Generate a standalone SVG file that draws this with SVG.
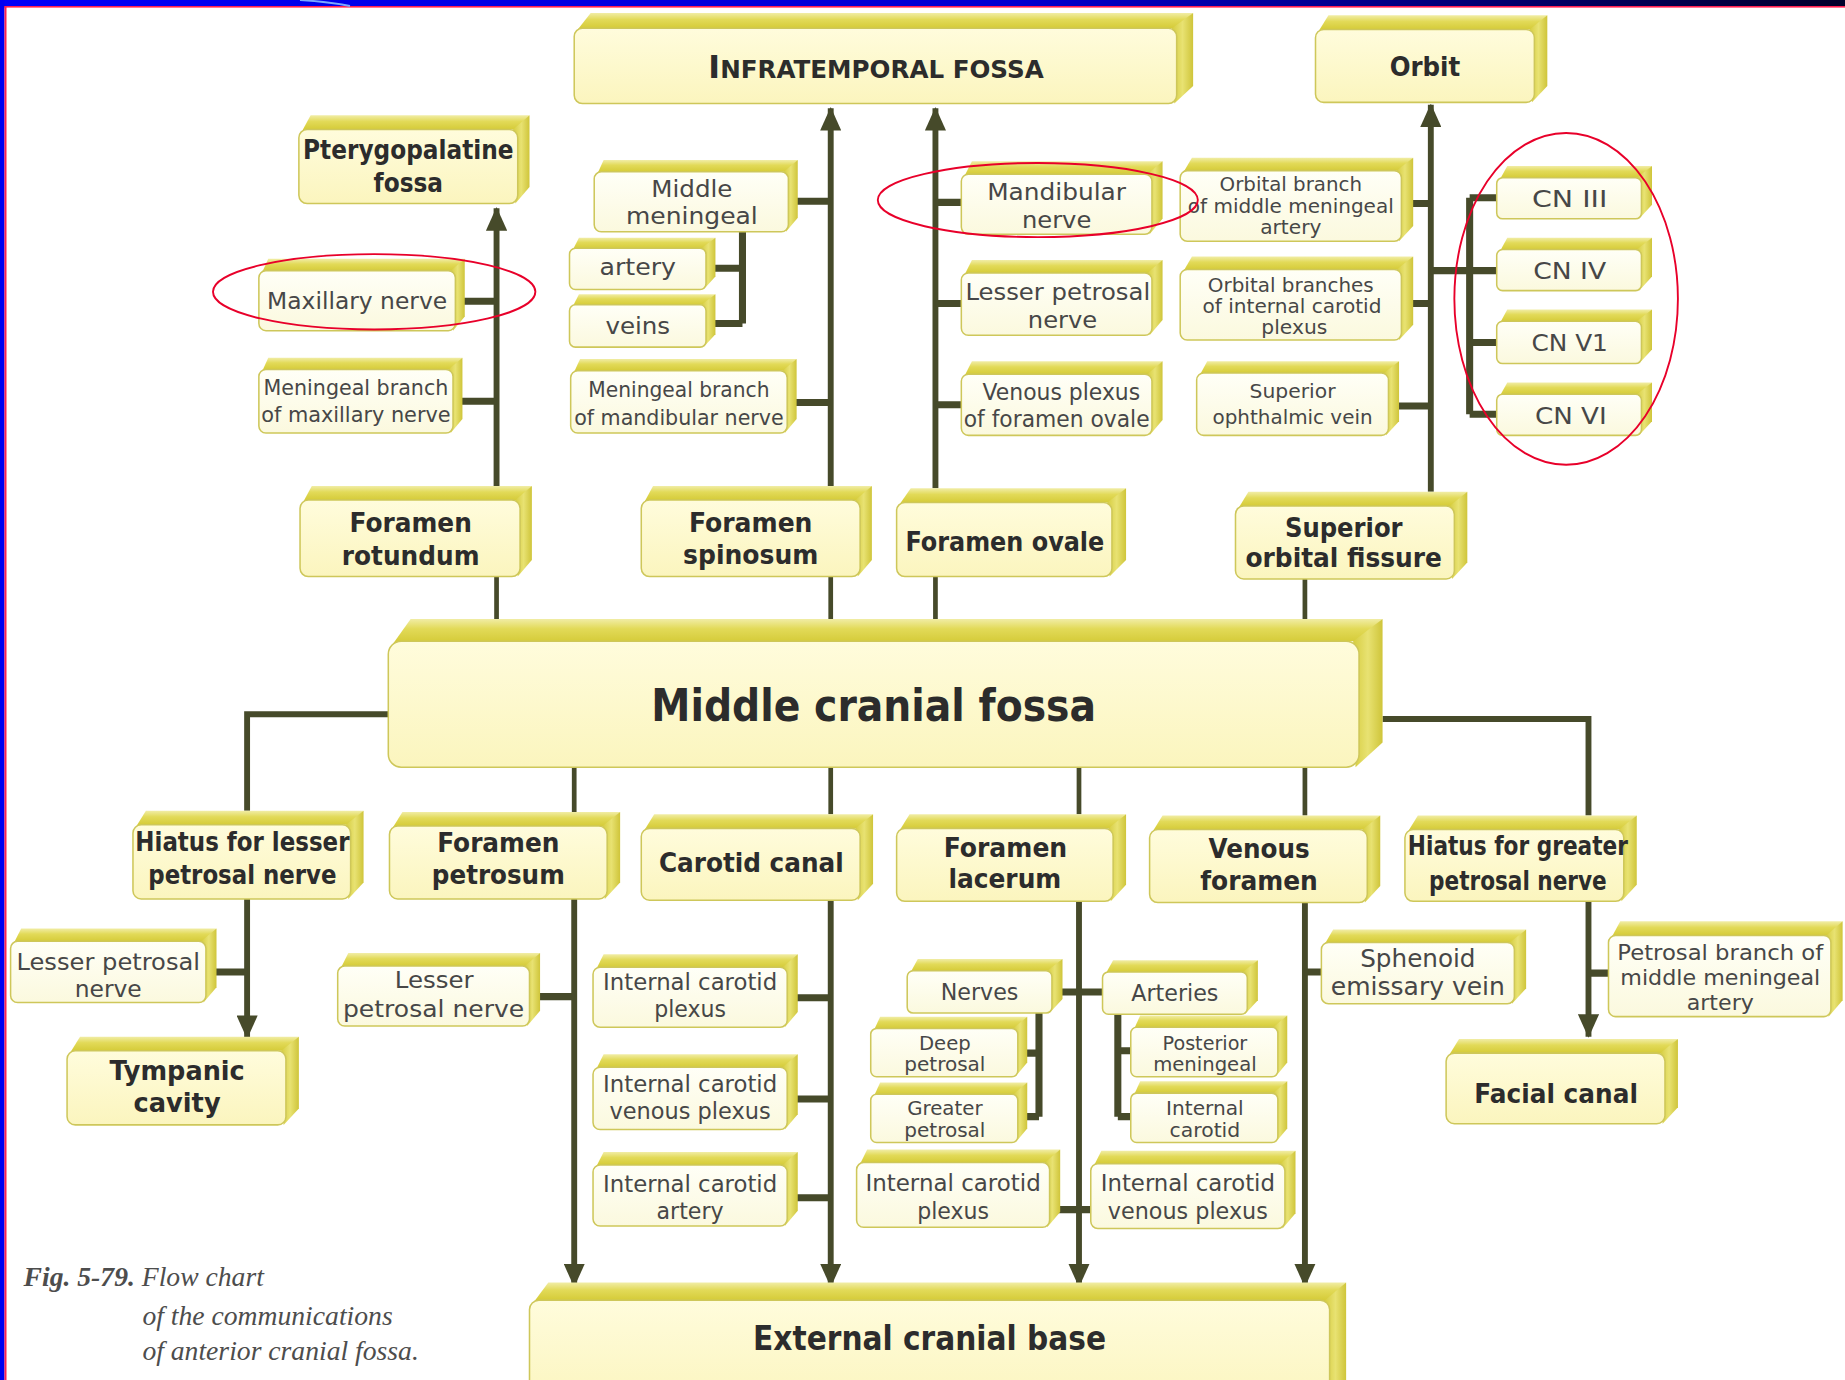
<svg xmlns="http://www.w3.org/2000/svg" width="1845" height="1380" viewBox="0 0 1845 1380">
<defs>
<linearGradient id="gTop" x1="0" y1="0" x2="0" y2="1"><stop offset="0" stop-color="#f1eda6"/><stop offset="0.4" stop-color="#e2da58"/><stop offset="1" stop-color="#d3c934"/></linearGradient>
<linearGradient id="gSide" x1="0" y1="0" x2="1" y2="0"><stop offset="0" stop-color="#d6cd40"/><stop offset="0.5" stop-color="#e8e272"/><stop offset="1" stop-color="#cfc53a"/></linearGradient>
<linearGradient id="gFront" x1="0" y1="0" x2="0" y2="1"><stop offset="0" stop-color="#fffff7"/><stop offset="1" stop-color="#fbf9de"/></linearGradient>
<linearGradient id="gMain" x1="0" y1="0" x2="0" y2="1"><stop offset="0" stop-color="#fffcdc"/><stop offset="1" stop-color="#fbf5be"/></linearGradient>
<linearGradient id="gBand" x1="0" y1="0" x2="1" y2="0"><stop offset="0" stop-color="#0000f8"/><stop offset="0.55" stop-color="#0000d0"/><stop offset="1" stop-color="#00002a"/></linearGradient>
<marker id="ah" viewBox="0 0 20 18" refX="19" refY="9" markerWidth="20" markerHeight="18" orient="auto" markerUnits="userSpaceOnUse"><path d="M0,0 L20,9 L0,18 Z" fill="#464a2a"/></marker>
</defs>
<style>
.top{fill:url(#gTop)}
.side{fill:url(#gSide)}
.front{fill:url(#gFront);stroke:#cec75a;stroke-width:1.3}
.main .front{fill:url(#gMain)}
.t{font-family:"DejaVu Sans",Verdana,sans-serif;text-anchor:middle}
.b{font-weight:bold;font-size:22px;fill:#2c2c2c}
.r{font-size:20px;fill:#474747}
.m{font-size:18.5px}
.s{font-size:16.5px}
.xl{font-size:38px}
.lg{font-size:28px}
.sp{font-size:21px}
.ln{stroke:#464a2a;stroke-width:5;fill:none}
.lk{stroke:#464a2a;stroke-width:4;fill:none}
.st{stroke:#464a2a;stroke-width:6;fill:none}
.ring{fill:none;stroke:#e8002a;stroke-width:1.6}
.cap{font-family:"Liberation Serif","Times New Roman",serif;font-style:italic;font-size:23.5px;fill:#4d4d4d}
</style>
<rect width="1845" height="1380" fill="#ffffff"/>
<g id="frame">
<rect x="0" y="0" width="1845" height="6" fill="url(#gBand)"/>
<rect x="0" y="6" width="1845" height="1.6" fill="#ff2050"/>
<rect x="0" y="0" width="4.5" height="1380" fill="#0000f0"/>
<rect x="4.5" y="6" width="2" height="1374" fill="#ff2050"/>
<path d="M300,0 Q330,2 350,6" stroke="#7aa8ff" stroke-width="2" fill="none"/>
</g>
<g transform="scale(1.17666)">
<g id="connectors">
<path class="ln" d="M422,413 V177" marker-end="url(#ah)"/>
<path class="ln" d="M706,413 V92" marker-end="url(#ah)"/>
<path class="ln" d="M795,415 V92" marker-end="url(#ah)"/>
<path class="ln" d="M1216,418 V89" marker-end="url(#ah)"/>
<path class="lk" d="M422,490 V537 M706,490 V537 M795,490 V537 M1109,492 V537"/>
<path class="st" d="M387,256 H422 M385,341 H422 M670,171 H706 M631,197 V275 M600,228 H631 M600,275 H631 M669,342 H706"/>
<path class="st" d="M795,172 H817 M795,258 H817 M795,344 H817 M1191,173 H1216 M1191,258 H1216 M1180,345 H1216"/>
<path class="st" d="M1216,230 H1249 M1249,168 V352 M1249,168 H1272 M1249,230 H1272 M1249,291 H1272 M1249,352 H1272"/>
<path class="ln" d="M330,607 H210 V689 M1175,611 H1350 V693"/>
<path class="lk" d="M488,652 V690 M706,652 V692 M917,652 V692 M1109,652 V693"/>
<path class="ln" d="M210,764 V882" marker-end="url(#ah)"/>
<path class="ln" d="M488,764 V1093" marker-end="url(#ah)"/>
<path class="ln" d="M706,765 V1093" marker-end="url(#ah)"/>
<path class="ln" d="M917,766 V1093" marker-end="url(#ah)"/>
<path class="ln" d="M1109,767 V1093" marker-end="url(#ah)"/>
<path class="ln" d="M1350,766 V881" marker-end="url(#ah)"/>
<path class="st" d="M175,826 H210 M450,847 H488 M669,848 H706 M669,934 H706 M669,1018 H706"/>
<path class="st" d="M894,843 H937 M883,861 V949 M865,895 H883 M865,949 H883 M950,862 V949 M950,893 H961 M950,949 H961 M892,1028 H927"/>
<path class="st" d="M1109,826 H1123 M1350,827 H1367"/>
</g>

<g id="n-infratemporal" class="main"><path class="top" d="M491,25 L502,11 L1014,11 L1000,24 Z"/><path class="side" d="M996,24 L1014,11 L1014,73 L998,88 Z"/><rect class="front" x="488" y="24" width="512" height="64" rx="7"/>
<text class="t b" x="744.5" y="66" textLength="285" lengthAdjust="spacingAndGlyphs"><tspan style="font-size:27px">I</tspan><tspan style="font-size:21px">NFRATEMPORAL FOSSA</tspan></text></g>

<g id="n-orbit" class="main"><path class="top" d="M1121,26 L1129,13 L1315,13 L1304,25 Z"/><path class="side" d="M1300,25 L1315,13 L1315,73 L1302,87 Z"/><rect class="front" x="1118" y="25" width="186" height="62" rx="7"/>
<text class="t b" x="1211" y="65" textLength="60" lengthAdjust="spacingAndGlyphs">Orbit</text></g>

<g id="n-pterygopalatine" class="main"><path class="top" d="M257,111 L264,98 L450,98 L440,110 Z"/><path class="side" d="M436,110 L450,98 L450,159 L438,173 Z"/><rect class="front" x="254" y="110" width="186" height="63" rx="7"/>
<text class="t b" x="347" y="135" textLength="179" lengthAdjust="spacingAndGlyphs">Pterygopalatine</text><text class="t b" x="347" y="163" textLength="59" lengthAdjust="spacingAndGlyphs">fossa</text></g>

<g id="n-maxillary"><path class="top" d="M223,231 L228,220 L395,220 L387,230 Z"/><path class="side" d="M383,230 L395,220 L395,269 L385,281 Z"/><rect class="front" x="220" y="230" width="167" height="51" rx="6"/>
<text class="t r" x="303.5" y="263" textLength="153" lengthAdjust="spacingAndGlyphs">Maxillary nerve</text></g>

<g id="n-meningeal-max"><path class="top" d="M223,315 L228,304 L393,304 L385,314 Z"/><path class="side" d="M381,314 L393,304 L393,356 L383,368 Z"/><rect class="front" x="220" y="314" width="165" height="54" rx="6"/>
<text class="t r m" x="302.5" y="336" textLength="157" lengthAdjust="spacingAndGlyphs">Meningeal branch</text><text class="t r m" x="302.5" y="359" textLength="161" lengthAdjust="spacingAndGlyphs">of maxillary nerve</text></g>

<g id="n-rotundum" class="main"><path class="top" d="M258,426 L265,413 L452,413 L442,425 Z"/><path class="side" d="M438,425 L452,413 L452,476 L440,490 Z"/><rect class="front" x="255" y="425" width="187" height="65" rx="7"/>
<text class="t b" x="349" y="452" textLength="104" lengthAdjust="spacingAndGlyphs">Foramen</text><text class="t b" x="349" y="480" textLength="117" lengthAdjust="spacingAndGlyphs">rotundum</text></g>

<g id="n-middle-meningeal"><path class="top" d="M508,147 L513,136 L678,136 L670,146 Z"/><path class="side" d="M666,146 L678,136 L678,185 L668,197 Z"/><rect class="front" x="505" y="146" width="165" height="51" rx="6"/>
<text class="t r" x="588" y="167" textLength="69" lengthAdjust="spacingAndGlyphs">Middle</text><text class="t r" x="588" y="190" textLength="112" lengthAdjust="spacingAndGlyphs">meningeal</text></g>

<g id="n-artery"><path class="top" d="M487,212 L492,202 L608,202 L600,211 Z"/><path class="side" d="M596,211 L608,202 L608,235 L598,246 Z"/><rect class="front" x="484" y="211" width="116" height="35" rx="5"/>
<text class="t r" x="542" y="234" textLength="65" lengthAdjust="spacingAndGlyphs">artery</text></g>

<g id="n-veins"><path class="top" d="M487,260 L492,250 L608,250 L600,259 Z"/><path class="side" d="M596,259 L608,250 L608,284 L598,295 Z"/><rect class="front" x="484" y="259" width="116" height="36" rx="5"/>
<text class="t r" x="542" y="284" textLength="55" lengthAdjust="spacingAndGlyphs">veins</text></g>

<g id="n-meningeal-mand"><path class="top" d="M488,316 L493,305 L677,305 L669,315 Z"/><path class="side" d="M665,315 L677,305 L677,356 L667,368 Z"/><rect class="front" x="485" y="315" width="184" height="53" rx="6"/>
<text class="t r m" x="577" y="337" textLength="154" lengthAdjust="spacingAndGlyphs">Meningeal branch</text><text class="t r m" x="577" y="361" textLength="178" lengthAdjust="spacingAndGlyphs">of mandibular nerve</text></g>

<g id="n-spinosum" class="main"><path class="top" d="M548,426 L555,413 L741,413 L731,425 Z"/><path class="side" d="M727,425 L741,413 L741,476 L729,490 Z"/><rect class="front" x="545" y="425" width="186" height="65" rx="7"/>
<text class="t b" x="638" y="452" textLength="105" lengthAdjust="spacingAndGlyphs">Foramen</text><text class="t b" x="638" y="479" textLength="115" lengthAdjust="spacingAndGlyphs">spinosum</text></g>

<g id="n-mandibular"><path class="top" d="M820,149 L826,137 L988,137 L979,148 Z"/><path class="side" d="M975,148 L988,137 L988,186 L977,199 Z"/><rect class="front" x="817" y="148" width="162" height="51" rx="6"/>
<text class="t r" x="898" y="170" textLength="118" lengthAdjust="spacingAndGlyphs">Mandibular</text><text class="t r" x="898" y="194" textLength="59" lengthAdjust="spacingAndGlyphs">nerve</text></g>

<g id="n-lesser-petrosal-top"><path class="top" d="M820,233 L826,221 L988,221 L979,232 Z"/><path class="side" d="M975,232 L988,221 L988,272 L977,285 Z"/><rect class="front" x="817" y="232" width="162" height="53" rx="6"/>
<text class="t r" x="899" y="255" textLength="157" lengthAdjust="spacingAndGlyphs">Lesser petrosal</text><text class="t r" x="903" y="279" textLength="59" lengthAdjust="spacingAndGlyphs">nerve</text></g>

<g id="n-venous-plexus-ovale"><path class="top" d="M820,319 L826,307 L988,307 L979,318 Z"/><path class="side" d="M975,318 L988,307 L988,357 L977,370 Z"/><rect class="front" x="817" y="318" width="162" height="52" rx="6"/>
<text class="t r" x="902" y="340" textLength="134" lengthAdjust="spacingAndGlyphs">Venous plexus</text><text class="t r" x="898" y="363" textLength="158" lengthAdjust="spacingAndGlyphs">of foramen ovale</text></g>

<g id="n-ovale" class="main"><path class="top" d="M765,428 L774,415 L957,415 L945,427 Z"/><path class="side" d="M941,427 L957,415 L957,476 L943,490 Z"/><rect class="front" x="762" y="427" width="183" height="63" rx="7"/>
<text class="t b" x="854" y="468" textLength="169" lengthAdjust="spacingAndGlyphs">Foramen ovale</text></g>

<g id="n-orbital-mma"><path class="top" d="M1006,146 L1013,134 L1201,134 L1191,145 Z"/><path class="side" d="M1187,145 L1201,134 L1201,192 L1189,205 Z"/><rect class="front" x="1003" y="145" width="188" height="60" rx="6"/>
<text class="t r s" x="1097" y="162" textLength="121" lengthAdjust="spacingAndGlyphs">Orbital branch</text><text class="t r s" x="1097" y="181" textLength="175" lengthAdjust="spacingAndGlyphs">of middle meningeal</text><text class="t r s" x="1097" y="199" textLength="52" lengthAdjust="spacingAndGlyphs">artery</text></g>

<g id="n-orbital-icp"><path class="top" d="M1006,230 L1013,218 L1201,218 L1191,229 Z"/><path class="side" d="M1187,229 L1201,218 L1201,276 L1189,289 Z"/><rect class="front" x="1003" y="229" width="188" height="60" rx="6"/>
<text class="t r s" x="1097" y="248" textLength="141" lengthAdjust="spacingAndGlyphs">Orbital branches</text><text class="t r s" x="1098" y="266" textLength="152" lengthAdjust="spacingAndGlyphs">of internal carotid</text><text class="t r s" x="1100" y="284" textLength="56" lengthAdjust="spacingAndGlyphs">plexus</text></g>

<g id="n-sup-ophthalmic"><path class="top" d="M1020,318 L1026,307 L1189,307 L1180,317 Z"/><path class="side" d="M1176,317 L1189,307 L1189,358 L1178,370 Z"/><rect class="front" x="1017" y="317" width="163" height="53" rx="6"/>
<text class="t r s" x="1098.5" y="338" textLength="73" lengthAdjust="spacingAndGlyphs">Superior</text><text class="t r s" x="1098.5" y="360" textLength="136" lengthAdjust="spacingAndGlyphs">ophthalmic vein</text></g>

<g id="n-cn3"><path class="top" d="M1275,152 L1281,141 L1404,141 L1395,151 Z"/><path class="side" d="M1391,151 L1404,141 L1404,174 L1393,186 Z"/><rect class="front" x="1272" y="151" width="123" height="35" rx="5"/>
<text class="t r" x="1334" y="176" textLength="64" lengthAdjust="spacingAndGlyphs">CN III</text></g>
<g id="n-cn4"><path class="top" d="M1275,213 L1281,202 L1404,202 L1395,212 Z"/><path class="side" d="M1391,212 L1404,202 L1404,235 L1393,247 Z"/><rect class="front" x="1272" y="212" width="123" height="35" rx="5"/>
<text class="t r" x="1334" y="237" textLength="62" lengthAdjust="spacingAndGlyphs">CN IV</text></g>
<g id="n-cn5"><path class="top" d="M1275,274 L1281,263 L1404,263 L1395,273 Z"/><path class="side" d="M1391,273 L1404,263 L1404,297 L1393,309 Z"/><rect class="front" x="1272" y="273" width="123" height="36" rx="5"/>
<text class="t r" x="1334" y="298" textLength="65" lengthAdjust="spacingAndGlyphs">CN V1</text></g>
<g id="n-cn6"><path class="top" d="M1275,336 L1281,325 L1404,325 L1395,335 Z"/><path class="side" d="M1391,335 L1404,325 L1404,358 L1393,370 Z"/><rect class="front" x="1272" y="335" width="123" height="35" rx="5"/>
<text class="t r" x="1335" y="360" textLength="61" lengthAdjust="spacingAndGlyphs">CN VI</text></g>

<g id="n-sof" class="main"><path class="top" d="M1053,431 L1061,418 L1247,418 L1236,430 Z"/><path class="side" d="M1232,430 L1247,418 L1247,478 L1234,492 Z"/><rect class="front" x="1050" y="430" width="186" height="62" rx="7"/>
<text class="t b" x="1142" y="456" textLength="100" lengthAdjust="spacingAndGlyphs">Superior</text><text class="t b" x="1142" y="482" textLength="167" lengthAdjust="spacingAndGlyphs">orbital fissure</text></g>

<g id="n-middle-cranial-fossa" class="main"><path class="top" d="M334,547 L349,526 L1175,526 L1155,545 Z"/><path class="side" d="M1150,545 L1175,526 L1175,631 L1152,652 Z"/><rect class="front" x="330" y="545" width="825" height="107" rx="11"/>
<text class="t b xl" x="742.5" y="613" textLength="378" lengthAdjust="spacingAndGlyphs">Middle cranial fossa</text></g>

<g id="n-hiatus-lesser" class="main"><path class="top" d="M116,702 L124,689 L309,689 L298,701 Z"/><path class="side" d="M294,701 L309,689 L309,750 L296,764 Z"/><rect class="front" x="113" y="701" width="185" height="63" rx="7"/>
<text class="t b" x="206" y="723" textLength="182" lengthAdjust="spacingAndGlyphs">Hiatus for lesser</text><text class="t b" x="206" y="751" textLength="160" lengthAdjust="spacingAndGlyphs">petrosal nerve</text></g>

<g id="n-foramen-petrosum" class="main"><path class="top" d="M334,703 L342,690 L527,690 L516,702 Z"/><path class="side" d="M512,702 L527,690 L527,750 L514,764 Z"/><rect class="front" x="331" y="702" width="185" height="62" rx="7"/>
<text class="t b" x="423.5" y="724" textLength="104" lengthAdjust="spacingAndGlyphs">Foramen</text><text class="t b" x="423.5" y="751" textLength="113" lengthAdjust="spacingAndGlyphs">petrosum</text></g>

<g id="n-carotid-canal" class="main"><path class="top" d="M548,705 L556,692 L742,692 L731,704 Z"/><path class="side" d="M727,704 L742,692 L742,751 L729,765 Z"/><rect class="front" x="545" y="704" width="186" height="61" rx="7"/>
<text class="t b" x="638.5" y="741" textLength="157" lengthAdjust="spacingAndGlyphs">Carotid canal</text></g>

<g id="n-foramen-lacerum" class="main"><path class="top" d="M765,705 L773,692 L957,692 L946,704 Z"/><path class="side" d="M942,704 L957,692 L957,752 L944,766 Z"/><rect class="front" x="762" y="704" width="184" height="62" rx="7"/>
<text class="t b" x="854.5" y="728" textLength="105" lengthAdjust="spacingAndGlyphs">Foramen</text><text class="t b" x="854" y="755" textLength="96" lengthAdjust="spacingAndGlyphs">lacerum</text></g>

<g id="n-venous-foramen" class="main"><path class="top" d="M980,706 L988,693 L1173,693 L1162,705 Z"/><path class="side" d="M1158,705 L1173,693 L1173,753 L1160,767 Z"/><rect class="front" x="977" y="705" width="185" height="62" rx="7"/>
<text class="t b" x="1070" y="729" textLength="86" lengthAdjust="spacingAndGlyphs">Venous</text><text class="t b" x="1070" y="756" textLength="100" lengthAdjust="spacingAndGlyphs">foramen</text></g>

<g id="n-hiatus-greater" class="main"><path class="top" d="M1197,706 L1205,693 L1391,693 L1380,705 Z"/><path class="side" d="M1376,705 L1391,693 L1391,752 L1378,766 Z"/><rect class="front" x="1194" y="705" width="186" height="61" rx="7"/>
<text class="t b" x="1290" y="727" textLength="187" lengthAdjust="spacingAndGlyphs">Hiatus for greater</text><text class="t b" x="1290" y="756" textLength="151" lengthAdjust="spacingAndGlyphs">petrosal nerve</text></g>

<g id="n-lesser-petrosal-left"><path class="top" d="M12,801 L18,789 L184,789 L175,800 Z"/><path class="side" d="M171,800 L184,789 L184,839 L173,852 Z"/><rect class="front" x="9" y="800" width="166" height="52" rx="6"/>
<text class="t r" x="92" y="824" textLength="156" lengthAdjust="spacingAndGlyphs">Lesser petrosal</text><text class="t r" x="92" y="847" textLength="57" lengthAdjust="spacingAndGlyphs">nerve</text></g>

<g id="n-tympanic" class="main"><path class="top" d="M60,894 L68,881 L254,881 L243,893 Z"/><path class="side" d="M239,893 L254,881 L254,942 L241,956 Z"/><rect class="front" x="57" y="893" width="186" height="63" rx="7"/>
<text class="t b" x="150.5" y="918" textLength="115" lengthAdjust="spacingAndGlyphs">Tympanic</text><text class="t b" x="150.5" y="945" textLength="74" lengthAdjust="spacingAndGlyphs">cavity</text></g>

<g id="n-lesser-petrosal-fp"><path class="top" d="M290,822 L296,810 L459,810 L450,821 Z"/><path class="side" d="M446,821 L459,810 L459,859 L448,872 Z"/><rect class="front" x="287" y="821" width="163" height="51" rx="6"/>
<text class="t r" x="369" y="840" textLength="67" lengthAdjust="spacingAndGlyphs">Lesser</text><text class="t r" x="368.5" y="864" textLength="154" lengthAdjust="spacingAndGlyphs">petrosal nerve</text></g>

<g id="n-icp-carotid"><path class="top" d="M507,823 L513,811 L678,811 L669,822 Z"/><path class="side" d="M665,822 L678,811 L678,860 L667,873 Z"/><rect class="front" x="504" y="822" width="165" height="51" rx="6"/>
<text class="t r" x="586.5" y="841" textLength="148" lengthAdjust="spacingAndGlyphs">Internal carotid</text><text class="t r" x="586.5" y="864" textLength="61" lengthAdjust="spacingAndGlyphs">plexus</text></g>

<g id="n-icvp-carotid"><path class="top" d="M507,908 L513,896 L678,896 L669,907 Z"/><path class="side" d="M665,907 L678,896 L678,947 L667,960 Z"/><rect class="front" x="504" y="907" width="165" height="53" rx="6"/>
<text class="t r" x="586.5" y="928" textLength="148" lengthAdjust="spacingAndGlyphs">Internal carotid</text><text class="t r" x="586.5" y="951" textLength="137" lengthAdjust="spacingAndGlyphs">venous plexus</text></g>

<g id="n-ica"><path class="top" d="M507,991 L513,979 L678,979 L669,990 Z"/><path class="side" d="M665,990 L678,979 L678,1029 L667,1042 Z"/><rect class="front" x="504" y="990" width="165" height="52" rx="6"/>
<text class="t r" x="586.5" y="1013" textLength="148" lengthAdjust="spacingAndGlyphs">Internal carotid</text><text class="t r" x="586.5" y="1036" textLength="57" lengthAdjust="spacingAndGlyphs">artery</text></g>

<g id="n-nerves"><path class="top" d="M774,826 L780,815 L903,815 L894,825 Z"/><path class="side" d="M890,825 L903,815 L903,849 L892,861 Z"/><rect class="front" x="771" y="825" width="123" height="36" rx="5"/>
<text class="t r" x="832.5" y="850" textLength="66" lengthAdjust="spacingAndGlyphs">Nerves</text></g>

<g id="n-arteries"><path class="top" d="M940,827 L946,816 L1069,816 L1060,826 Z"/><path class="side" d="M1056,826 L1069,816 L1069,850 L1058,862 Z"/><rect class="front" x="937" y="826" width="123" height="36" rx="5"/>
<text class="t r" x="998.5" y="851" textLength="74" lengthAdjust="spacingAndGlyphs">Arteries</text></g>

<g id="n-deep-petrosal"><path class="top" d="M743,875 L748,864 L873,864 L865,874 Z"/><path class="side" d="M861,874 L873,864 L873,903 L863,915 Z"/><rect class="front" x="740" y="874" width="125" height="41" rx="5"/>
<text class="t r s" x="803" y="892" textLength="44" lengthAdjust="spacingAndGlyphs">Deep</text><text class="t r s" x="803" y="910" textLength="69" lengthAdjust="spacingAndGlyphs">petrosal</text></g>

<g id="n-greater-petrosal"><path class="top" d="M743,931 L748,920 L873,920 L865,930 Z"/><path class="side" d="M861,930 L873,920 L873,959 L863,971 Z"/><rect class="front" x="740" y="930" width="125" height="41" rx="5"/>
<text class="t r s" x="803" y="948" textLength="64" lengthAdjust="spacingAndGlyphs">Greater</text><text class="t r s" x="803" y="966" textLength="69" lengthAdjust="spacingAndGlyphs">petrosal</text></g>

<g id="n-posterior-meningeal"><path class="top" d="M964,874 L969,863 L1094,863 L1086,873 Z"/><path class="side" d="M1082,873 L1094,863 L1094,903 L1084,915 Z"/><rect class="front" x="961" y="873" width="125" height="42" rx="5"/>
<text class="t r s" x="1024" y="892" textLength="72" lengthAdjust="spacingAndGlyphs">Posterior</text><text class="t r s" x="1024" y="910" textLength="88" lengthAdjust="spacingAndGlyphs">meningeal</text></g>

<g id="n-internal-carotid-art"><path class="top" d="M964,930 L969,919 L1094,919 L1086,929 Z"/><path class="side" d="M1082,929 L1094,919 L1094,959 L1084,971 Z"/><rect class="front" x="961" y="929" width="125" height="42" rx="5"/>
<text class="t r s" x="1024" y="948" textLength="66" lengthAdjust="spacingAndGlyphs">Internal</text><text class="t r s" x="1024" y="966" textLength="60" lengthAdjust="spacingAndGlyphs">carotid</text></g>

<g id="n-icp-lacerum"><path class="top" d="M731,989 L737,977 L901,977 L892,988 Z"/><path class="side" d="M888,988 L901,977 L901,1030 L890,1043 Z"/><rect class="front" x="728" y="988" width="164" height="55" rx="6"/>
<text class="t r" x="810" y="1012" textLength="149" lengthAdjust="spacingAndGlyphs">Internal carotid</text><text class="t r" x="810" y="1036" textLength="61" lengthAdjust="spacingAndGlyphs">plexus</text></g>

<g id="n-icvp-lacerum"><path class="top" d="M930,990 L936,978 L1101,978 L1092,989 Z"/><path class="side" d="M1088,989 L1101,978 L1101,1031 L1090,1044 Z"/><rect class="front" x="927" y="989" width="165" height="55" rx="6"/>
<text class="t r" x="1009.5" y="1012" textLength="148" lengthAdjust="spacingAndGlyphs">Internal carotid</text><text class="t r" x="1009.5" y="1036" textLength="136" lengthAdjust="spacingAndGlyphs">venous plexus</text></g>

<g id="n-sphenoid"><path class="top" d="M1126,802 L1133,790 L1297,790 L1287,801 Z"/><path class="side" d="M1283,801 L1297,790 L1297,840 L1285,853 Z"/><rect class="front" x="1123" y="801" width="164" height="52" rx="6"/>
<text class="t r sp" x="1205" y="822" textLength="98" lengthAdjust="spacingAndGlyphs">Sphenoid</text><text class="t r sp" x="1205" y="846" textLength="148" lengthAdjust="spacingAndGlyphs">emissary vein</text></g>

<g id="n-petrosal-branch"><path class="top" d="M1370,796 L1377,783 L1566,783 L1556,795 Z"/><path class="side" d="M1552,795 L1566,783 L1566,850 L1554,864 Z"/><rect class="front" x="1367" y="795" width="189" height="69" rx="6"/>
<text class="t r m" x="1462" y="816" textLength="175" lengthAdjust="spacingAndGlyphs">Petrosal branch of</text><text class="t r m" x="1462" y="837" textLength="170" lengthAdjust="spacingAndGlyphs">middle meningeal</text><text class="t r m" x="1462" y="858" textLength="57" lengthAdjust="spacingAndGlyphs">artery</text></g>

<g id="n-facial-canal" class="main"><path class="top" d="M1232,896 L1240,883 L1426,883 L1415,895 Z"/><path class="side" d="M1411,895 L1426,883 L1426,941 L1413,955 Z"/><rect class="front" x="1229" y="895" width="186" height="60" rx="7"/>
<text class="t b" x="1322.5" y="937" textLength="139" lengthAdjust="spacingAndGlyphs">Facial canal</text></g>

<g id="n-external-cranial-base" class="main"><path class="top" d="M454,1106 L466,1090 L1144,1090 L1130,1105 Z"/><path class="side" d="M1126,1105 L1144,1090 L1144,1180 L1130,1195 Z"/><rect class="front" x="450" y="1105" width="680" height="90" rx="8"/>
<text class="t b lg" x="790" y="1147" textLength="300" lengthAdjust="spacingAndGlyphs">External cranial base</text></g>

<g id="highlights">
<ellipse class="ring" cx="318" cy="248" rx="137" ry="32"/>
<ellipse class="ring" cx="882" cy="170" rx="136" ry="31.5"/>
<ellipse class="ring" cx="1331" cy="254" rx="95" ry="141"/>
</g>

<g id="caption">
<text class="cap" x="20" y="1093"><tspan font-weight="bold">Fig. 5-79.</tspan> Flow chart</text>
<text class="cap" x="121" y="1126">of the communications</text>
<text class="cap" x="121" y="1156">of anterior cranial fossa.</text>
</g>
</g>
</svg>
